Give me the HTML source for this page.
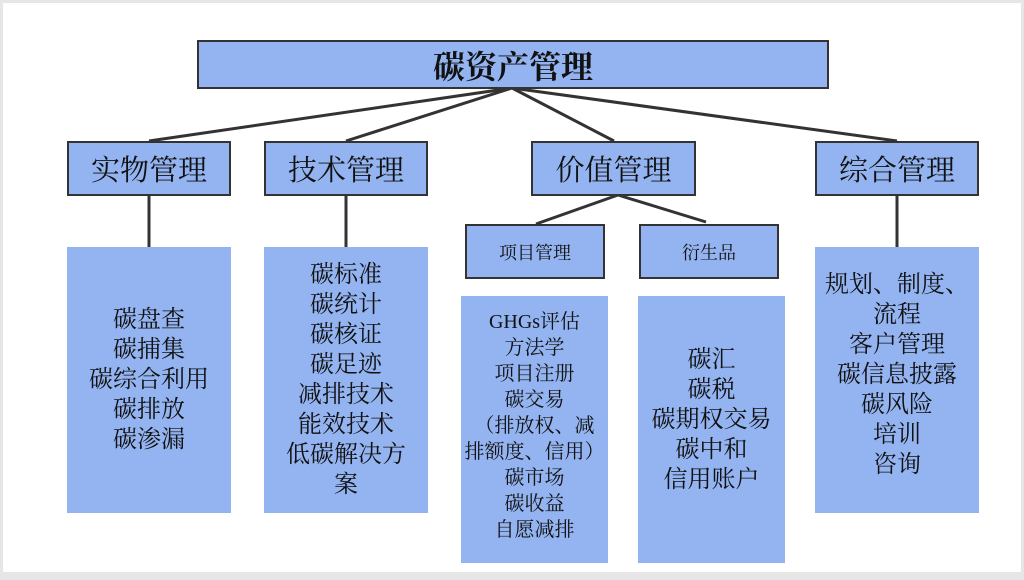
<!DOCTYPE html>
<html><head><meta charset="utf-8"><style>
body{margin:0;width:1024px;height:580px;overflow:hidden;background:#e6e6e6;font-family:"Liberation Serif","Noto Serif CJK SC",serif;}
#pg{position:absolute;left:3px;top:3px;width:1018px;height:569px;background:#fff;}
.b{position:absolute;background:#93b4f0;box-sizing:border-box;display:flex;align-items:center;justify-content:center;text-align:center;color:#111;white-space:nowrap;}
.o{border:2px solid #333;}
</style></head><body>
<div id="pg"></div>
<svg style="position:absolute;left:0;top:0" width="1024" height="580">
<g stroke="#333" stroke-width="3" fill="none">
<line x1="512" y1="88" x2="149" y2="141"/>
<line x1="512" y1="88" x2="346" y2="141"/>
<line x1="512" y1="88" x2="614" y2="141"/>
<line x1="512" y1="88" x2="897" y2="141"/>
<line x1="149" y1="195" x2="149" y2="247"/>
<line x1="346" y1="195" x2="346" y2="247"/>
<line x1="897" y1="195" x2="897" y2="247"/>
<line x1="618" y1="195" x2="536" y2="224"/>
<line x1="618" y1="195" x2="706" y2="222"/>
</g></svg>
<div class="b o" style="left:197px;top:40px;width:632px;height:49px;font-size:32px;font-weight:bold">碳资产管理</div>
<div class="b o" style="left:67px;top:141px;width:164px;height:55px;font-size:29px">实物管理</div>
<div class="b o" style="left:264px;top:141px;width:164px;height:55px;font-size:29px">技术管理</div>
<div class="b o" style="left:531px;top:141px;width:165px;height:55px;font-size:29px">价值管理</div>
<div class="b o" style="left:815px;top:141px;width:164px;height:55px;font-size:29px">综合管理</div>
<div class="b o" style="left:465px;top:224px;width:140px;height:55px;font-size:18px">项目管理</div>
<div class="b o" style="left:639px;top:224px;width:140px;height:55px;font-size:18px">衍生品</div>
<div class="b" style="left:67px;top:247px;width:164px;height:266px;font-size:24px;line-height:30px">碳盘查<br>碳捕集<br>碳综合利用<br>碳排放<br>碳渗漏</div>
<div class="b" style="left:264px;top:247px;width:164px;height:266px;font-size:24px;line-height:30px">碳标准<br>碳统计<br>碳核证<br>碳足迹<br>减排技术<br>能效技术<br>低碳解决方<br>案</div>
<div class="b" style="left:461px;top:296px;width:147px;height:267px;font-size:20px;line-height:26px;padding-bottom:8px">GHGs评估<br>方法学<br>项目注册<br>碳交易<br>（排放权、减<br>排额度、信用）<br>碳市场<br>碳收益<br>自愿减排</div>
<div class="b" style="left:638px;top:296px;width:147px;height:267px;font-size:24px;line-height:30px;padding-bottom:20px">碳汇<br>碳税<br>碳期权交易<br>碳中和<br>信用账户</div>
<div class="b" style="left:815px;top:247px;width:164px;height:266px;font-size:24px;line-height:30px;padding-bottom:10px">规划、制度、<br>流程<br>客户管理<br>碳信息披露<br>碳风险<br>培训<br>咨询</div>
</body></html>
